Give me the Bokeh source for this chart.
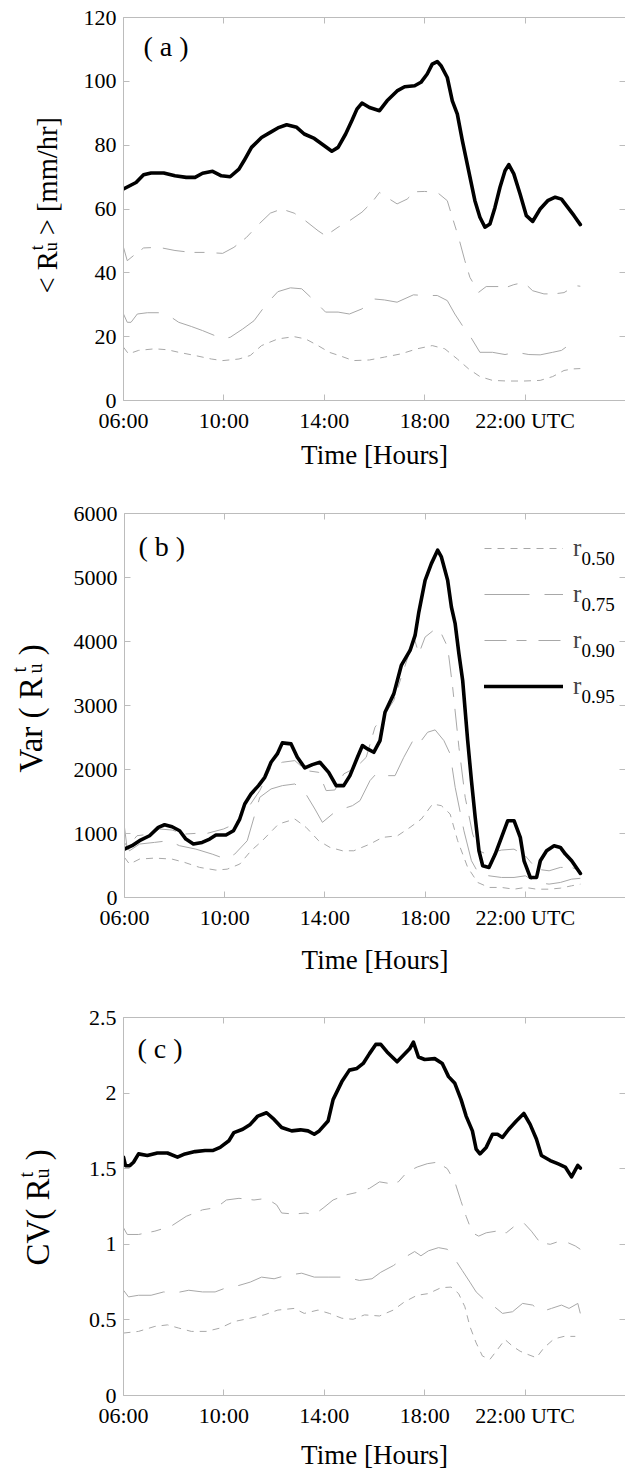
import math

from bokeh.embed import file_html
from bokeh.layouts import column, row
from bokeh.models import (FixedTicker, Label, Legend, LegendItem, LinearAxis,
                          Range1d)
from bokeh.plotting import figure
from bokeh.resources import INLINE

# ---------------------------------------------------------------- data
# time axis in hours (UTC); tick labels
hour_ticks = [6, 10, 14, 18, 22]
hour_labels = ["06:00", "10:00", "14:00", "18:00", "22:00 UTC"]
series_names = ["0.50", "0.75", "0.90", "0.95"]

# (a) mean rain rate <R_u^t> [mm/hr]
a50_t = [6.0, 6.2, 6.6, 7.25, 7.75, 8.2, 8.85, 9.5, 9.95, 10.6, 11.05, 11.5, 12.15, 12.8, 13.25,
         13.75, 14.2, 14.7, 15.15, 15.8, 16.4, 17.05, 17.7, 18.3, 18.8, 19.3, 19.75, 20.2, 20.7,
         21.3, 21.95, 22.6, 23.1, 23.55, 23.9, 24.2]
a50_v = [16.7, 14.6, 15.7, 16.2, 15.9, 15.1, 14.1, 13.0, 12.5, 13.0, 14.1, 17.2, 19.3, 20.0, 19.3,
         17.2, 15.1, 13.8, 12.5, 12.7, 13.6, 14.6, 16.2, 17.2, 16.2, 13.0, 9.9, 7.5, 6.3,
         6.1, 6.1, 6.3, 7.5, 9.4, 9.9, 10.0]
a75_t = [6.0, 6.15, 6.3, 6.55, 6.95, 7.4, 7.9, 8.2, 8.7, 9.15, 9.65, 9.95, 10.25, 10.75, 11.2,
         11.7, 12.15, 12.65, 13.1, 13.6, 14.05, 14.55, 15.0, 15.5, 16.0, 16.4, 16.9, 17.55, 18.0,
         18.5, 18.9, 19.2, 19.5, 19.8, 20.2, 20.7, 21.2, 21.65, 22.15, 22.6, 23.1, 23.45, 23.8, 24.0]
a75_v = [27.1, 24.5, 24.5, 27.1, 27.5, 27.5, 26.1, 24.5, 23.2, 21.9, 20.3, 19.3, 19.8, 22.4, 25.0,
         30.3, 34.1, 35.3, 35.0, 31.3, 27.7, 27.7, 27.1, 28.7, 31.8, 31.5, 30.8, 33.1, 32.9,
         32.9, 31.3, 27.1, 23.5, 20.3, 15.1, 15.1, 14.4, 15.1, 14.4, 14.3, 15.1, 15.7, 17.7, 18.2]
a90_t = [6.0, 6.15, 6.4, 6.8, 7.4, 8.05, 8.7, 9.3, 9.95, 10.4, 10.9, 11.4, 11.85, 12.3, 12.8,
         13.25, 13.75, 14.05, 14.55, 15.0, 15.5, 15.9, 16.2, 16.5, 16.9, 17.3, 17.6, 18.0, 18.5,
         18.9, 19.1, 19.35, 19.6, 19.8, 20.15, 20.45, 20.95, 21.2, 21.55, 21.95, 22.3, 22.75,
         23.15, 23.55, 24.0, 24.2]
a90_v = [48.0, 43.8, 45.4, 47.8, 48.0, 47.0, 46.4, 46.4, 46.1, 48.0, 51.1, 55.3, 58.7, 60.0, 58.7,
         56.3, 53.2, 51.6, 54.3, 56.3, 59.0, 62.1, 65.2, 63.6, 61.6, 63.1, 65.4, 65.5, 65.2,
         62.6, 57.4, 51.1, 43.8, 38.6, 33.9, 35.7, 35.7, 35.3, 36.3, 37.0, 34.4, 33.4,
         33.4, 33.8, 36.0, 35.8]
a95_t = [6.0, 6.5, 6.8, 7.1, 7.6, 8.05, 8.5, 8.85, 9.15, 9.55, 9.9, 10.25, 10.6, 10.8, 11.1,
         11.5, 11.85, 12.15, 12.5, 12.9, 13.2, 13.6, 14.0, 14.3, 14.55, 14.85, 15.1, 15.3, 15.5,
         15.8, 16.2, 16.5, 16.9, 17.2, 17.6, 17.85, 18.1, 18.3, 18.5, 18.65, 18.9, 19.1, 19.3,
         19.5, 19.75, 20.0, 20.2, 20.4, 20.6, 20.8, 21.0, 21.2, 21.35, 21.55, 21.8, 22.05, 22.3,
         22.6, 22.9, 23.2, 23.45, 23.7, 23.95, 24.2]
a95_v = [66.3, 68.3, 70.7, 71.3, 71.3, 70.4, 69.9, 69.9, 71.2, 71.8, 70.4, 70.1, 72.5, 75.1, 79.3,
         82.4, 84.0, 85.4, 86.4, 85.6, 83.5, 82.1, 79.8, 78.1, 79.3, 83.5, 87.7, 91.3, 93.2,
         91.8, 90.8, 93.9, 97.0, 98.3, 98.6, 99.7, 102.3, 105.4, 106.2, 104.9, 101.2, 93.9, 89.7,
         81.4, 72.0, 62.6, 57.4, 54.3, 55.3, 60.5, 66.8, 72.0, 73.9, 71.0, 64.7, 57.9, 56.1,
         60.0, 62.6, 63.7, 63.1, 60.5, 57.9, 55.1]

# (b) variance Var(R_u^t)
b50_t = [6.0, 6.2, 6.6, 7.2, 7.9, 8.4, 9.0, 9.65, 10.1, 10.6, 11.05, 11.5, 12.15, 12.8, 13.25,
         13.75, 14.2, 14.7, 15.15, 15.8, 16.3, 16.9, 17.4, 17.85, 18.3, 18.65, 19.0, 19.3, 19.7,
         20.1, 20.55, 21.05, 21.55, 22.0, 22.45, 22.95, 23.4, 23.85, 24.2]
b50_v = [626, 522, 600, 616, 600, 548, 470, 428, 443, 522, 730, 887, 1148, 1226, 1096,
         887, 783, 730, 730, 835, 939, 965, 1096, 1226, 1461, 1435, 1304, 887, 470,
         235, 157, 157, 130, 157, 130, 130, 146, 183, 209]
b75_t = [6.0, 6.2, 6.6, 7.2, 7.75, 8.2, 8.85, 9.5, 10.05, 10.4, 10.9, 11.4, 11.85, 12.3, 12.8,
         13.2, 13.6, 13.9, 14.3, 14.7, 15.1, 15.4, 15.8, 16.1, 16.5, 16.8, 17.15, 17.55, 17.75,
         18.1, 18.4, 18.75, 19.0, 19.2, 19.55, 19.85, 20.15, 20.55, 21.05, 21.55, 22.0, 22.45,
         22.95, 23.4, 23.85, 24.2]
b75_v = [861, 730, 835, 861, 887, 809, 756, 678, 600, 678, 887, 1565, 1696, 1748, 1774,
         1643, 1383, 1174, 1304, 1383, 1435, 1513, 1826, 1956, 1904, 1904, 2191, 2478, 2400,
         2582, 2619, 2452, 2243, 1722, 1043, 574, 365, 339, 313, 313, 339, 235,
         209, 235, 287, 300]
b90_t = [6.0, 6.1, 6.5, 7.0, 7.4, 7.9, 8.4, 8.85, 9.3, 9.95, 10.4, 10.9, 11.4, 11.85, 12.3,
         12.8, 13.25, 13.75, 14.05, 14.4, 14.75, 15.25, 15.65, 16.0, 16.4, 16.75, 17.05, 17.4,
         17.55, 17.75, 18.0, 18.3, 18.65, 18.9, 19.1, 19.35, 19.6, 19.9, 20.15, 20.45, 21.05,
         21.55, 22.0, 22.45, 22.95, 23.4, 23.85, 24.2]
b90_v = [1096, 783, 965, 991, 1070, 1054, 991, 1002, 1002, 1070, 1148, 1383, 1670, 2035, 2113,
         2139, 1983, 1956, 1670, 1680, 1930, 2035, 2191, 2661, 2869, 3078, 3443, 3860,
         4069, 3808, 4069, 4163, 4121, 3913, 3287, 2348, 1565, 991, 730, 678, 741,
         756, 652, 443, 417, 470, 470, 417]
b95_t = [6.0, 6.3, 6.6, 7.0, 7.35, 7.6, 7.9, 8.2, 8.45, 8.75, 9.1, 9.4, 9.65, 10.05, 10.35,
         10.6, 10.8, 11.05, 11.35, 11.6, 11.85, 12.1, 12.3, 12.65, 12.9, 13.2, 13.5, 13.8, 14.15,
         14.45, 14.75, 15.0, 15.3, 15.5, 15.7, 15.95, 16.2, 16.4, 16.75, 17.05, 17.4, 17.6,
         17.75, 18.0, 18.25, 18.5, 18.65, 18.9, 19.05, 19.2, 19.35, 19.5, 19.7, 19.85, 20.0,
         20.15, 20.3, 20.55, 20.8, 21.05, 21.3, 21.55, 21.8, 21.95, 22.2, 22.45, 22.6, 22.85,
         23.15, 23.4, 23.6, 23.85, 24.2]
b95_v = [756, 809, 887, 965, 1096, 1137, 1106, 1043, 913, 835, 861, 913, 976, 976, 1043,
         1226, 1461, 1617, 1748, 1878, 2113, 2243, 2416, 2400, 2191, 2024, 2076, 2113, 1956,
         1748, 1748, 1904, 2191, 2374, 2322, 2269, 2452, 2895, 3182, 3626, 3860, 4095,
         4460, 4956, 5217, 5426, 5321, 4956, 4539, 4278, 3808, 3391, 2452, 1826, 1252,
         730, 496, 470, 678, 939, 1200, 1200, 939, 574, 313, 313, 574, 730,
         809, 783, 678, 574, 376]

# (c) coefficient of variation CV(R_u^t)
c50_t = [6.0, 6.6, 7.25, 7.75, 8.2, 8.7, 9.3, 9.85, 10.4, 11.05, 11.6, 12.15, 12.8, 13.2, 13.75,
         14.2, 14.7, 15.15, 15.6, 16.2, 16.75, 17.2, 17.7, 18.15, 18.65, 19.05, 19.35, 19.6, 19.8,
         20.05, 20.3, 20.6, 20.85, 21.2, 21.5, 21.8, 22.1, 22.45, 22.75, 23.15, 23.55, 24.0]
c50_v = [0.413, 0.424, 0.457, 0.467, 0.446, 0.424, 0.424, 0.446, 0.489, 0.511, 0.533, 0.565,
         0.576, 0.543, 0.565, 0.543, 0.511, 0.504, 0.533, 0.526, 0.565, 0.620, 0.663, 0.674,
         0.713, 0.717, 0.674, 0.587, 0.457, 0.348, 0.261, 0.239, 0.293, 0.370, 0.326, 0.293,
         0.272, 0.250, 0.315, 0.374, 0.391, 0.391]
c75_t = [6.0, 6.2, 6.6, 7.1, 7.6, 8.05, 8.6, 9.15, 9.65, 10.1, 10.6, 11.05, 11.5, 12.0, 12.45,
         13.1, 13.6, 14.15, 14.85, 15.4, 15.9, 16.25, 16.75, 17.2, 17.6, 17.85, 18.15, 18.55,
         18.9, 19.2, 19.5, 19.8, 20.05, 20.4, 20.7, 21.1, 21.5, 21.9, 22.3, 22.65, 23.05, 23.45,
         23.75, 24.1, 24.2]
c75_v = [0.696, 0.652, 0.663, 0.663, 0.685, 0.678, 0.696, 0.685, 0.685, 0.713, 0.728, 0.750,
         0.783, 0.772, 0.793, 0.809, 0.783, 0.783, 0.783, 0.761, 0.772, 0.815, 0.859, 0.913,
         0.952, 0.924, 0.957, 0.978, 0.967, 0.902, 0.826, 0.750, 0.685, 0.630, 0.598, 0.543,
         0.554, 0.609, 0.598, 0.554, 0.576, 0.598, 0.576, 0.609, 0.543]
c90_t = [6.0, 6.15, 6.6, 7.25, 7.9, 8.5, 9.15, 9.7, 10.1, 10.6, 11.2, 11.7, 12.1, 12.3, 12.8,
         13.25, 13.6, 13.95, 14.35, 14.85, 15.3, 15.8, 16.2, 16.6, 16.95, 17.3, 17.7, 18.1, 18.5,
         18.9, 19.2, 19.45, 19.65, 19.9, 20.15, 20.45, 20.85, 21.25, 21.65, 21.95, 22.25, 22.6,
         23.0, 23.4, 23.7, 24.0, 24.2]
c90_v = [1.109, 1.065, 1.065, 1.087, 1.120, 1.185, 1.228, 1.243, 1.293, 1.304, 1.293, 1.304,
         1.261, 1.207, 1.200, 1.207, 1.196, 1.239, 1.293, 1.326, 1.343, 1.370, 1.413, 1.402,
         1.413, 1.478, 1.511, 1.533, 1.543, 1.500, 1.413, 1.283, 1.185, 1.076, 1.054, 1.076,
         1.087, 1.076, 1.130, 1.141, 1.087, 1.011, 1.000, 1.022, 1.011, 0.989, 0.967]
c95_t = [6.0, 6.08, 6.25, 6.4, 6.6, 6.95, 7.35, 7.75, 8.15, 8.45, 8.85, 9.25, 9.55, 9.85, 10.2,
         10.4, 10.75, 11.05, 11.35, 11.7, 12.0, 12.3, 12.7, 13.05, 13.35, 13.6, 13.8, 14.15,
         14.35, 14.7, 15.0, 15.3, 15.55, 15.8, 16.05, 16.25, 16.5, 16.9, 17.15, 17.4, 17.55,
         17.75, 18.0, 18.4, 18.7, 18.95, 19.2, 19.45, 19.65, 19.9, 20.05, 20.2, 20.45, 20.7,
         20.9, 21.1, 21.35, 21.65, 21.95, 22.2, 22.45, 22.65, 23.0, 23.3, 23.6, 23.85, 24.1, 24.2]
c95_v = [1.576, 1.520, 1.520, 1.543, 1.598, 1.587, 1.604, 1.604, 1.576, 1.598, 1.613, 1.620,
         1.620, 1.641, 1.685, 1.739, 1.761, 1.793, 1.848, 1.870, 1.826, 1.772, 1.750, 1.757,
         1.750, 1.728, 1.750, 1.815, 1.957, 2.076, 2.152, 2.163, 2.196, 2.261, 2.322, 2.322,
         2.272, 2.207, 2.250, 2.293, 2.337, 2.239, 2.222, 2.228, 2.196, 2.109, 2.065, 1.957,
         1.848, 1.750, 1.630, 1.598, 1.641, 1.728, 1.728, 1.707, 1.761, 1.815, 1.865, 1.793,
         1.696, 1.587, 1.554, 1.533, 1.511, 1.446, 1.522, 1.504]

# y axes
a_yticks = [0, 20, 40, 60, 80, 100, 120]
b_yticks = [0, 1000, 2000, 3000, 4000, 5000, 6000]
c_yticks = [0, 0.5, 1, 1.5, 2, 2.5]
c_ytick_labels = ["0", "0.5", "1", "1.5", "2", "2.5"]

# ---------------------------------------------------------------- style
FONT = "Liberation Serif"
AXIS_GRAY = "#bcbcbc"
CURVE_GRAY = "#a8a8a8"
STYLES = {
    "0.50": dict(line_color=CURVE_GRAY, line_width=1.0, line_dash="7 6"),
    "0.75": dict(line_color=CURVE_GRAY, line_width=1.0, line_dash="45 15"),
    "0.90": dict(line_color=CURVE_GRAY, line_width=1.0, line_dash="22 10 10 12"),
    "0.95": dict(line_color="black", line_width=3.6, line_join="round", line_cap="round"),
}
LABEL_W = 70          # strip holding the rotated y-axis titles
PLOT_W = 625 - LABEL_W
FRAME_LEFT = 123      # page x of every plot frame's left edge
DROP_V = 0.46         # rotated text: baseline offset past the anchor, in em
DROP_H = 0.25         # horizontal text: baseline offset below the anchor, in em

# approximate advance widths of a Times-like face, per 1000 em
ADV = {" ": 250, "<": 564, ">": 564, "R": 667, "u": 500, "t": 278, "[": 333, "]": 333,
       "m": 778, "/": 278, "h": 500, "r": 333, "V": 722, "a": 444, "(": 333, ")": 333,
       "C": 667}


def text_width(s, size):
    return sum(ADV.get(ch, 500) for ch in s) * size / 1000.0


def screen_label(p, x, y, text, size, angle=0.0):
    p.add_layout(Label(x=x, y=y, x_units="screen", y_units="screen", text=text,
                       angle=angle, text_font=FONT, text_font_size=f"{size}px",
                       text_align="left", text_baseline="alphabetic", text_color="black"))


def baseline_label(p, x, baseline_y, text, size):
    """Horizontal label whose baseline lands near baseline_y (screen units, upward)."""
    screen_label(p, x, baseline_y + DROP_H * size, text, size)


def title_strip(height, border_bottom, baseline_x, y0, lead, trail, size, small, drop, rise):
    """Narrow blank canvas carrying a vertical title  lead R_u^t trail.

    Its frame spans the same rows as the neighbouring plot frame, so y0 is
    measured upward from that plot's x axis."""
    s = figure(width=LABEL_W, height=height, x_range=Range1d(0, 1), y_range=Range1d(0, 1),
               output_backend="svg", toolbar_location=None,
               x_axis_location=None, y_axis_location=None,
               min_border_left=0, min_border_right=0, min_border_top=17,
               min_border_bottom=border_bottom)
    s.outline_line_color = None
    for g in s.grid:
        g.visible = False
    up = math.pi / 2
    x0 = baseline_x - DROP_V * size
    screen_label(s, x0, y0, lead, size, up)
    y1 = y0 + text_width(lead, size)
    screen_label(s, x0 + drop, y1, "u", small, up)
    screen_label(s, x0 - rise, y1 + 1, "t", small, up)
    y2 = y1 + text_width("u", small) + text_width(" ", size)
    screen_label(s, x0, y2, trail, size, up)
    return s


def make_panel(height, border_bottom, ymax, yticks, ylabels, series, tag, tag_xy,
               xlabel_standoff):
    p = figure(width=PLOT_W, height=height, x_range=Range1d(6, 26), y_range=Range1d(0, ymax),
               output_backend="svg", toolbar_location=None,
               x_axis_location=None, y_axis_location=None,
               min_border_left=FRAME_LEFT - LABEL_W, min_border_right=0, min_border_top=17,
               min_border_bottom=border_bottom)
    p.outline_line_color = None
    for g in p.grid:
        g.visible = False

    def axis(loc, labelled):
        ax = LinearAxis()
        ax.axis_line_color = AXIS_GRAY
        ax.major_tick_line_color = AXIS_GRAY
        ax.minor_tick_line_color = None
        ax.major_tick_in = 6
        ax.major_tick_out = 0
        if loc in ("below", "above"):
            ax.ticker = FixedTicker(ticks=hour_ticks, minor_ticks=[])
        else:
            ax.ticker = FixedTicker(ticks=yticks, minor_ticks=[])
        if labelled:
            if loc == "below":
                ax.major_label_overrides = dict(zip(hour_ticks, hour_labels))
            else:
                ax.major_label_overrides = dict(zip(yticks, ylabels))
            ax.major_label_text_font = FONT
            ax.major_label_text_font_size = "22px"
            ax.major_label_text_color = "black"
            ax.major_label_standoff = 7
        else:
            # frame edge with inward ticks only
            ax.major_label_text_font_size = "0px"
            ax.major_label_text_color = None
            ax.major_label_text_alpha = 0
            ax.major_label_standoff = 0
        p.add_layout(ax, loc)
        return ax

    bottom = axis("below", True)
    axis("left", True)
    axis("above", False)
    axis("right", False)
    bottom.axis_label = "Time [Hours]"
    bottom.axis_label_text_font = FONT
    bottom.axis_label_text_font_size = "27px"
    bottom.axis_label_text_font_style = "normal"
    bottom.axis_label_text_color = "black"
    bottom.axis_label_standoff = xlabel_standoff

    renderers = {}
    for name, (t, v) in series.items():
        renderers[name] = p.line(t, v, **STYLES[name])

    baseline_label(p, tag_xy[0], tag_xy[1], tag, 28)
    return p, renderers


pa, _ = make_panel(496, 96, 120, a_yticks, [str(v) for v in a_yticks],
                   {"0.50": (a50_t, a50_v), "0.75": (a75_t, a75_v),
                    "0.90": (a90_t, a90_v), "0.95": (a95_t, a95_v)},
                   "( a )", (20, 347), 4)
sa = title_strip(496, 96, 60, 107, "< R", "> [mm/hr]", 28.5, 18, 4, 10)

pb, rb = make_panel(504, 103, 6000, b_yticks, [str(v) for v in b_yticks],
                    {"0.50": (b50_t, b50_v), "0.75": (b75_t, b75_v),
                     "0.90": (b90_t, b90_v), "0.95": (b95_t, b95_v)},
                    "( b )", (14, 344), 12)
sb = title_strip(504, 103, 46, 125, "Var ( R", ")", 33, 20, 4, 12)

pc, _ = make_panel(472, 72, 2.5, c_yticks, c_ytick_labels,
                   {"0.50": (c50_t, c50_v), "0.75": (c75_t, c75_v),
                    "0.90": (c90_t, c90_v), "0.95": (c95_t, c95_v)},
                   "( c )", (14, 340), 9)
sc = title_strip(472, 72, 53, 130, "CV( R", ")", 33, 20, 4, 12)

# legend of panel (b): sample line + "r", with the quantile as a subscript
LEG_X, LEG_TOP, ROW_H, GLYPH_W, STANDOFF = 360, 12, 46, 79, 10
frame_h_b = 504 - 17 - 103
legend = Legend(items=[LegendItem(label="r", renderers=[rb[n]]) for n in series_names],
                location=(LEG_X, frame_h_b - LEG_TOP - ROW_H * len(series_names)),
                orientation="vertical", padding=0, margin=0, spacing=0,
                glyph_width=GLYPH_W, glyph_height=ROW_H, label_height=ROW_H,
                label_standoff=STANDOFF, border_line_color=None,
                background_fill_alpha=0, label_text_font=FONT,
                label_text_font_size="25px", label_text_baseline="middle")
pb.add_layout(legend, "center")
for i, n in enumerate(series_names):
    row_center = frame_h_b - LEG_TOP - ROW_H * i - ROW_H / 2
    baseline_label(pb, LEG_X + GLYPH_W + STANDOFF + 8, row_center - 15, n, 19)

page = column(row(sa, pa, spacing=0), row(sb, pb, spacing=0), row(sc, pc, spacing=0),
              spacing=0)
open("out.html", "w").write(file_html(page, INLINE))
